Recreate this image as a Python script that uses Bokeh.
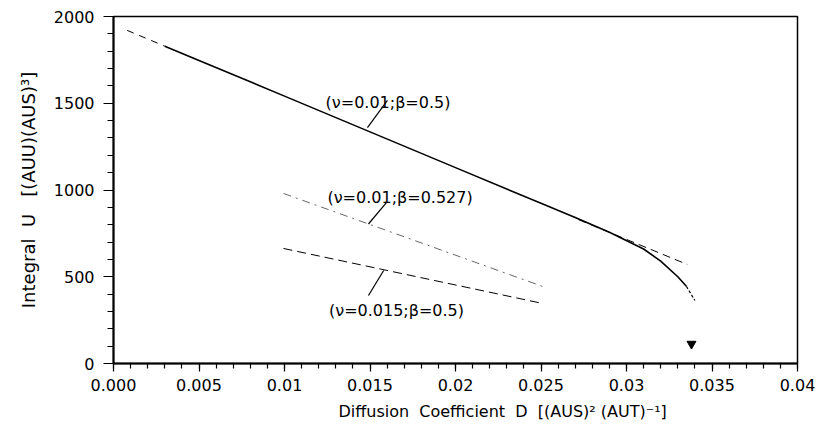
from bokeh.plotting import figure
from bokeh.models import FixedTicker, Label, Range1d, Title
from bokeh.embed import file_html
from bokeh.resources import INLINE

# Main curve (nu=0.01; beta=0.5): dashed lead-in, solid body, dashed tail
main_lead_D = [0.0008, 0.0030]
main_lead_U = [1920, 1829]
main_D = [0.0030, 0.0050, 0.0100, 0.0150, 0.0200, 0.0250, 0.0270, 0.0290, 0.0310, 0.0320, 0.0330, 0.0335]
main_U = [1829, 1747, 1541, 1335, 1129, 923, 841, 756, 660, 590, 500, 445]
main_tail_D = [0.0335, 0.0340]
main_tail_U = [445, 363]

# Linear extrapolation of the main curve
extrap_D = [0.0272, 0.03355]
extrap_U = [829, 571]

# nu=0.01; beta=0.527
b527_D = [0.00994, 0.0251]
b527_U = [980, 444]

# nu=0.015; beta=0.5
n015_D = [0.00994, 0.0251]
n015_U = [663, 346]

# Critical point marker
crit_D = [0.0338]
crit_U = [113]

x_ticks = [0.0, 0.005, 0.01, 0.015, 0.02, 0.025, 0.03, 0.035, 0.04]
x_tick_labels = ["0.000", "0.005", "0.01", "0.015", "0.02", "0.025", "0.03", "0.035", "0.04"]
x_minor = [i / 1000 for i in range(0, 41)]
y_ticks = [0, 500, 1000, 1500, 2000]
y_minor = list(range(0, 2001, 100))

curve_labels = ["(\u03bd=0.01;\u03b2=0.5)", "(\u03bd=0.01;\u03b2=0.527)", "(\u03bd=0.015;\u03b2=0.5)"]
label_D = [0.0124, 0.01251, 0.0126]
label_U = [1505, 957, 306]
leader_D0 = [0.01485, 0.01491, 0.0158]
leader_U0 = [1359, 804, 536]
leader_D1 = [0.01602, 0.01596, 0.01491]
leader_U1 = [1517, 927, 392]

x_title = "Diffusion\u00a0\u00a0Coefficient\u00a0\u00a0D\u00a0\u00a0[(AUS)\u00b2\u00a0(AUT)\u207b\u00b9]"
y_title = "Integral\u00a0\u00a0U\u00a0\u00a0\u00a0[(AUU)(AUS)\u00b3]"

FONT = "DejaVu Sans"

p = figure(width=816, height=439, output_backend="svg", toolbar_location=None,
           x_range=Range1d(0, 0.04), y_range=Range1d(0, 2000),
           min_border_left=113, min_border_right=19, min_border_top=16, min_border_bottom=76)
p.background_fill_color = "white"
p.border_fill_color = "white"
p.grid.visible = False
p.outline_line_color = "black"
p.outline_line_width = 1.5

p.xaxis.ticker = FixedTicker(ticks=x_ticks, minor_ticks=x_minor)
p.xaxis.major_label_overrides = {t: s for t, s in zip(x_ticks, x_tick_labels)}
p.yaxis.ticker = FixedTicker(ticks=y_ticks, minor_ticks=y_minor)

for ax in (p.xaxis[0], p.yaxis[0]):
    ax.axis_line_width = 2
    ax.axis_line_color = "black"
    ax.major_tick_line_color = "black"
    ax.minor_tick_line_color = "black"
    ax.major_tick_line_width = 1.2
    ax.minor_tick_line_width = 1.2
    ax.major_tick_in = 0
    ax.minor_tick_in = 0
    ax.major_label_text_font = FONT
    ax.major_label_text_font_size = "16px"
    ax.major_label_text_color = "black"
    ax.axis_label_text_font = FONT
    ax.axis_label_text_font_size = "18px"
    ax.axis_label_text_font_style = "normal"
    ax.axis_label_text_color = "black"

p.xaxis.major_tick_out = 8
p.xaxis.minor_tick_out = 5
p.xaxis.major_label_standoff = 7

p.yaxis.major_tick_out = 10
p.yaxis.minor_tick_out = 6
p.yaxis.major_label_standoff = 9
p.yaxis.axis_label_standoff = 12
p.yaxis.axis_label = y_title

# x-axis title as a panel below the axis, shifted right of centre
p.add_layout(Title(text=x_title, align="left", offset=225, standoff=12,
                   text_font=FONT, text_font_size="16px", text_font_style="normal",
                   text_color="black"), "below")

# Curves
p.line(main_lead_D, main_lead_U, line_color="black", line_width=1, line_dash="7 6")
p.line(main_D, main_U, line_color="black", line_width=1.6)
p.line(main_tail_D, main_tail_U, line_color="black", line_width=1.2, line_dash="3 2")
p.line(extrap_D, extrap_U, line_color="black", line_width=1, line_dash="8 5")
p.line(b527_D, b527_U, line_color="#555555", line_width=0.9, line_dash="8 5 2 5")
p.line(n015_D, n015_U, line_color="black", line_width=1, line_dash="9 5")

p.scatter(crit_D, crit_U, marker="inverted_triangle", size=9, color="black")

# Curve labels with leader lines
p.segment(x0=leader_D0, y0=leader_U0, x1=leader_D1, y1=leader_U1, line_color="black", line_width=1.2)
for txt, xd, yd in zip(curve_labels, label_D, label_U):
    p.add_layout(Label(x=xd, y=yd, text=txt, text_font=FONT, text_font_size="16px",
                       text_color="black", text_baseline="alphabetic", text_align="left"))

open("out.html", "w").write(file_html(p, INLINE))
